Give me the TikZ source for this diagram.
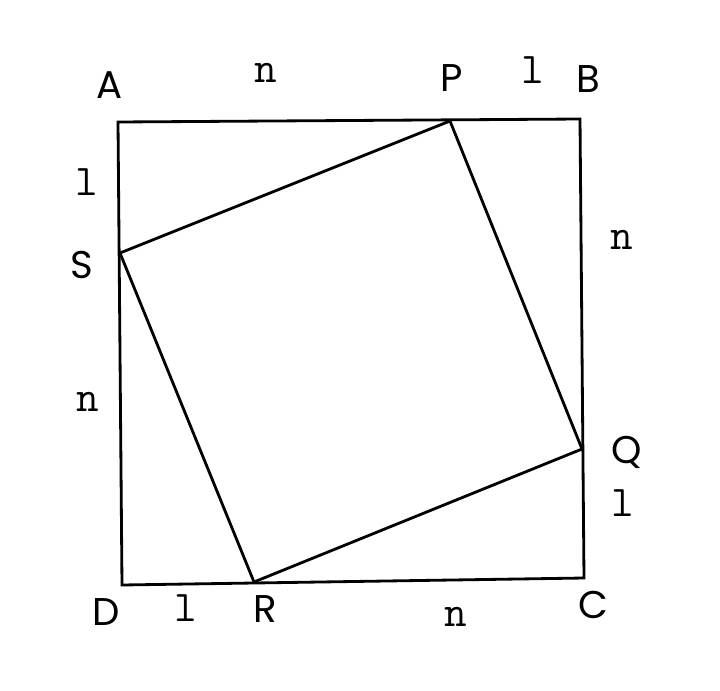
\documentclass[tikz,border=0pt]{standalone}
\usepackage{fontspec}
\setmainfont{Poppins}
\begin{document}
\begin{tikzpicture}[x=0.02cm, y=-0.02cm, line width=1.6pt, line join=miter,
    vlabel/.style={font=\fontsize{22}{26}\selectfont},
    slabel/.style={font=\ttfamily\fontsize{25}{28}\selectfont}]
        \useasboundingbox (0,0) rectangle (720,690);
        % Corners
        \coordinate (A) at (118,122);
        \coordinate (B) at (580,119);
        \coordinate (C) at (584,578);
        \coordinate (D) at (122,585);
        \coordinate (P) at (450,121);
        \coordinate (Q) at (582,449);
        \coordinate (R) at (254,582);
        \coordinate (S) at (120,253);

        % Squares
        \draw (A) -- (B) -- (C) -- (D) -- cycle;
        \draw (P) -- (Q) -- (R) -- (S) -- cycle;

        % Vertex labels
        \node (a) [vlabel] at (110,85) {A};
        \node (b) [vlabel] at (588,79) {B};
        \node (c) [vlabel] at (593,605) {C};
        \node (d) [vlabel] at (106,612) {D};
        \node (p) [vlabel] at (452,78) {P};
        \node (q) [vlabel] at (627,452) {Q};
        \node (r) [vlabel] at (265,609) {R};
        \node (s) [vlabel] at (82,265) {S};

        % Side labels
        \node (ap) [slabel] at (266,73) {n};
        \node (pb) [slabel] at (533,70) {l};
        \node (bq) [slabel] at (622,240) {n};
        \node (qc) [slabel] at (623,503) {l};
        \node (cr) [slabel] at (456,617) {n};
        \node (rd) [slabel] at (186,608) {l};
        \node (ds) [slabel] at (88,402) {n};
        \node (sa) [slabel] at (87,182) {l};
    \end{tikzpicture}
\end{document}
